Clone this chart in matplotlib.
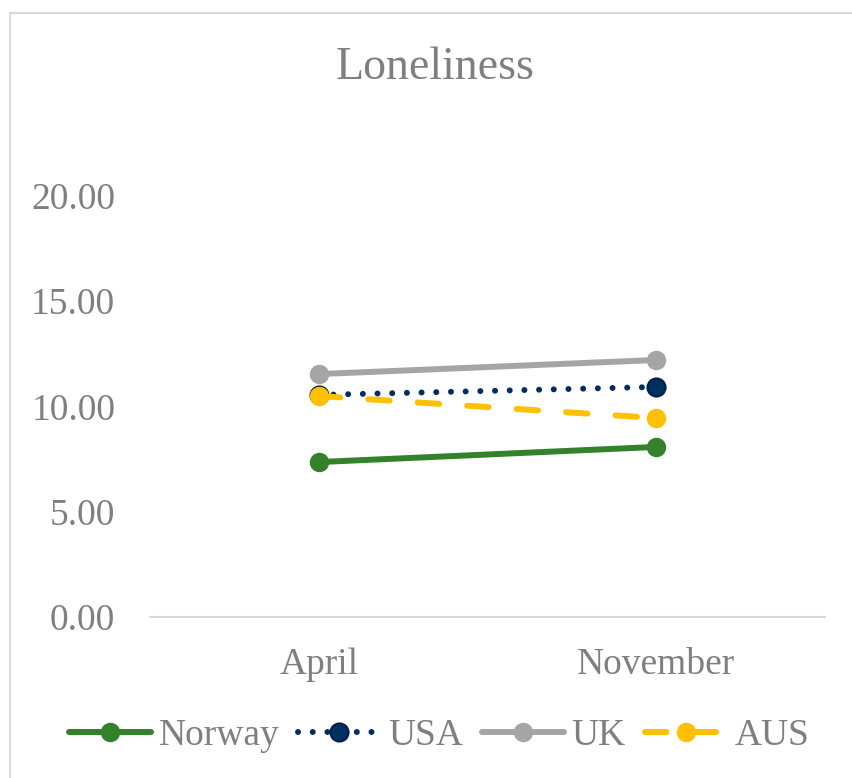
import matplotlib
matplotlib.use("Agg")
import matplotlib.pyplot as plt
from matplotlib.patches import Rectangle

categories = ["April", "November"]
norway = [7.36, 8.08]
usa = [10.55, 10.93]
uk = [11.54, 12.21]
aus = [10.50, 9.45]
yticks = [0, 5, 10, 15, 20]

plt.rcParams['font.family'] = ['Liberation Serif', 'DejaVu Serif']
gray_txt = '#7F7F7F'

fig = plt.figure(figsize=(8.53, 7.78), dpi=100)
W, H = 853, 778
# chart border
fig.patches.append(Rectangle((9.5 / W, -0.05), 1.2, (H - 13.5) / H + 0.05,
                             transform=fig.transFigure, fill=False,
                             edgecolor='#D9D9D9', linewidth=1.5))

ax = fig.add_axes([150 / W, (H - 617) / H, 675 / W, 25 * 21.05 / H])
x = list(range(len(categories)))
lw = 4.3
ms = 13
ax.plot(x, norway, color='#33822A', lw=lw, marker='o', ms=ms,
        solid_capstyle='round', label='Norway', zorder=3)
ax.plot(x, usa, color='#002F5F', lw=lw, marker='o', ms=ms, mfc='#00305F', mec='#001E50', mew=1.5,
        linestyle=(0, (0.01, 2.45)), dash_capstyle='round', label='USA', zorder=3)
ax.plot(x, uk, color='#A5A5A5', lw=lw, marker='o', ms=ms,
        solid_capstyle='round', label='UK', zorder=2)
ax.plot(x, aus, color='#FFC000', lw=lw, marker='o', ms=ms,
        linestyle=(0, (3.6, 4.7)), dash_capstyle='round', label='AUS', zorder=4)

ax.set_xlim(-0.5, 1.5)
ax.set_ylim(0, 25)
ax.set_xticks(x)
ax.set_xticklabels(categories)
ax.set_yticks(yticks)
ax.set_yticklabels([f"{v:.2f}" for v in yticks])
for s in ['top', 'right', 'left']:
    ax.spines[s].set_visible(False)
ax.spines['bottom'].set_color('#D9D9D9')
ax.spines['bottom'].set_linewidth(1.5)
ax.tick_params(axis='both', length=0, colors=gray_txt, labelsize=27)
ax.tick_params(axis='y', pad=25)
ax.tick_params(axis='x', pad=22)
ax.set_facecolor('none')

fig.text(435 / W, 1 - 68 / H, "Loneliness", ha='center', va='center',
         fontsize=33, color=gray_txt)

leg = fig.legend(loc='center', bbox_to_anchor=(439 / W, 1 - 736 / H), ncol=4,
                 frameon=False, fontsize=27, handlelength=2.2, handletextpad=0.2,
                 columnspacing=0.5, labelcolor=gray_txt, borderpad=0)

fig.savefig("out.png", dpi=100)
